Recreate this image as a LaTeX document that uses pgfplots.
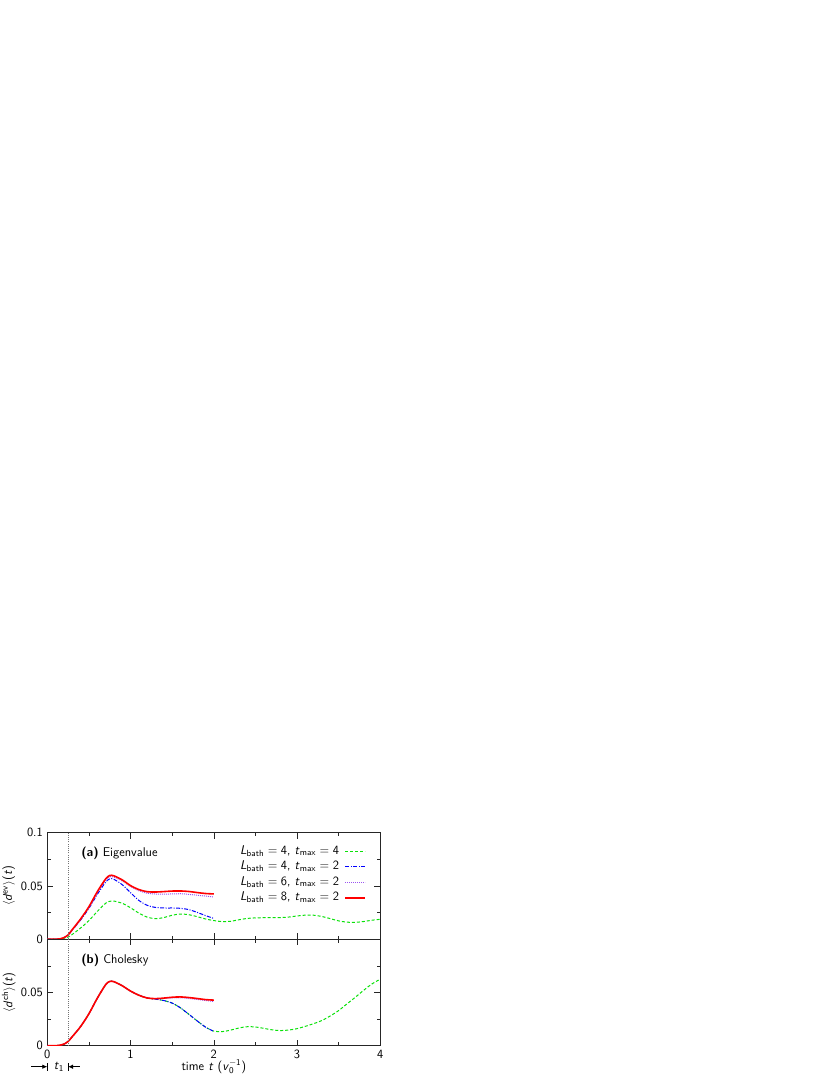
\documentclass[border=0pt]{standalone}
\usepackage{fontspec}
\usepackage{amsmath}
\usepackage{pgfplots}
\pgfplotsset{compat=1.18}
\usetikzlibrary{arrows.meta}
\definecolor{cgreen}{RGB}{10,225,10}
\definecolor{cblue}{RGB}{0,0,255}
\definecolor{cpurple}{RGB}{155,85,240}
\definecolor{cred}{RGB}{255,0,0}
\pgfplotsset{
  panel/.style={
    scale only axis, width=333bp, height=106.5bp,
    xmin=0, xmax=4, ymin=0, ymax=0.1,
    xtick={0,1,2,3,4}, minor x tick num=1,
    ytick={0,0.05,0.1}, minor y tick num=1,
    major tick length=6bp, minor tick length=3.5bp,
    axis line style={line width=0.6bp, black!85},
    every tick/.style={black!85, line width=0.55bp},
    /pgf/number format/assume math mode=true,
    clip mode=individual,
    ylabel style={at={(rel axis cs:0,0.5)}, anchor=center, yshift=38.5bp},
    every axis plot/.append style={smooth, tension=0.5},
    legend image code/.code={\draw[#1] (0bp,0bp) -- (20bp,0bp);},
  },
  sgreen/.style={cgreen, line width=1bp, dash pattern=on 3bp off 2bp},
  sblue/.style={cblue, line width=1bp, dash pattern=on 4bp off 1.5bp on 1bp off 1.5bp},
  spurple/.style={cpurple, line width=1bp, dash pattern=on 1bp off 1bp},
  sred/.style={cred, line width=1.6bp},
}
\begin{document}
\fontsize{12.7}{15}\selectfont\sffamily
\begin{tikzpicture}
\useasboundingbox (0,0) rectangle (830bp,1075bp);
% ---------- top panel (a)
\begin{axis}[panel, at={(47.3bp,135.8bp)}, anchor=south west,
  xticklabels={},
  yticklabels={0,0.05,0.1},
  ylabel={\ensuremath{\langle}\textit{d}\textsuperscript{ev}\ensuremath{\rangle}(\textit{t})},
  legend plot pos=right, legend cell align=right,
  legend style={at={(rel axis cs:0.958,0.90)}, anchor=north east, draw=none, fill=none,
    inner sep=0pt, row sep=0pt, column sep=4bp,
    nodes={inner sep=1.5bp, text height=9bp, text depth=3.5bp}},
]
\addplot[sgreen] coordinates {
(0,0) (0.1,0) (0.15,0.0001) (0.2,0.0008) (0.25,0.002) (0.3,0.0045) (0.4,0.0105) (0.5,0.0175)
(0.6,0.026) (0.7,0.0337) (0.75,0.0356) (0.8,0.0358) (0.9,0.0337) (1.0,0.0295) (1.1,0.0245)
(1.2,0.0207) (1.3,0.0193) (1.4,0.0203) (1.5,0.0225) (1.6,0.0236) (1.7,0.0230) (1.8,0.0212)
(1.9,0.0190) (2.0,0.0175) (2.1,0.0165) (2.2,0.0168) (2.3,0.0182) (2.4,0.0195) (2.5,0.0200)
(2.6,0.0202) (2.7,0.0202) (2.8,0.0203) (2.9,0.0208) (3.0,0.0218) (3.1,0.0226) (3.2,0.0225)
(3.3,0.0213) (3.4,0.0193) (3.5,0.0172) (3.6,0.0160) (3.7,0.0158) (3.8,0.0166) (3.9,0.0178) (4.0,0.0187)};
\addlegendentry{\textit{L}\textsubscript{bath}\;=\;4, \textit{t}\textsubscript{max}\;=\;4}
\addplot[sblue] coordinates {
(0,0) (0.1,0) (0.15,0.0003) (0.2,0.0015) (0.25,0.004) (0.3,0.0085) (0.4,0.018) (0.5,0.029)
(0.6,0.042) (0.7,0.0535) (0.75,0.0566) (0.8,0.0562) (0.9,0.0512) (1.0,0.0437) (1.1,0.0364)
(1.2,0.0318) (1.3,0.0298) (1.4,0.0293) (1.5,0.0293) (1.6,0.0290) (1.7,0.0278) (1.8,0.0252)
(1.9,0.0222) (2.0,0.0195)};
\addlegendentry{\textit{L}\textsubscript{bath}\;=\;4, \textit{t}\textsubscript{max}\;=\;2}
\addplot[spurple] coordinates {
(0,0) (0.1,0) (0.15,0.0003) (0.2,0.0015) (0.25,0.004) (0.3,0.0088) (0.4,0.0188) (0.5,0.030)
(0.6,0.0438) (0.7,0.0555) (0.75,0.0586) (0.8,0.0583) (0.9,0.0547) (1.0,0.0495) (1.1,0.0455)
(1.2,0.0432) (1.3,0.0424) (1.4,0.0423) (1.5,0.0425) (1.6,0.0427) (1.7,0.0421) (1.8,0.0413)
(1.9,0.0405) (2.0,0.0397)};
\addlegendentry{\textit{L}\textsubscript{bath}\;=\;6, \textit{t}\textsubscript{max}\;=\;2}
\addplot[sred] coordinates {
(0,0) (0.1,0) (0.15,0.0003) (0.2,0.0015) (0.25,0.004) (0.3,0.009) (0.4,0.019) (0.5,0.0305)
(0.6,0.0445) (0.7,0.0565) (0.75,0.0598) (0.8,0.0595) (0.9,0.0557) (1.0,0.0503) (1.1,0.0466)
(1.2,0.0446) (1.3,0.0443) (1.4,0.0447) (1.5,0.0452) (1.6,0.0453) (1.7,0.0448) (1.8,0.0438)
(1.9,0.0429) (2.0,0.0425)};
\addlegendentry{\textit{L}\textsubscript{bath}\;=\;8, \textit{t}\textsubscript{max}\;=\;2}
\draw[black!55, line width=0.45bp, dash pattern=on 0.9bp off 1.3bp] (axis cs:0.25,0) -- (axis cs:0.25,0.1);
\node[anchor=west] at (axis cs:0.355,0.0806) {\textbf{(a)} Eigenvalue};
\end{axis}
% ---------- bottom panel (b)
\begin{axis}[panel, at={(47.3bp,29.3bp)}, anchor=south west,
  xticklabels={0,1,2,3,4},
  yticklabels={0,0.05,},
  ylabel={\ensuremath{\langle}\textit{d}\textsuperscript{ch}\ensuremath{\rangle}(\textit{t})},
  xlabel={time \textit{t} (\textit{v}\ensuremath{_{\mathsf{0}}^{-\mathsf{1}}})},
  xlabel style={at={(rel axis cs:0.5,0)}, anchor=center, yshift=-21bp},
]
\addplot[sgreen] coordinates {
(0,0) (0.1,0) (0.15,0.0004) (0.2,0.0015) (0.25,0.004) (0.3,0.0085) (0.4,0.018) (0.5,0.030)
(0.6,0.0445) (0.7,0.0572) (0.75,0.0603) (0.8,0.0601) (0.9,0.0563) (1.0,0.0513) (1.1,0.0474)
(1.2,0.0448) (1.3,0.0437) (1.4,0.0424) (1.5,0.0400) (1.6,0.0355) (1.7,0.0295) (1.8,0.0233)
(1.9,0.0175) (2.0,0.0137) (2.1,0.0132) (2.2,0.0146) (2.3,0.0166) (2.4,0.0178) (2.5,0.0176)
(2.6,0.0163) (2.7,0.0149) (2.8,0.0142) (2.9,0.0147) (3.0,0.0160) (3.1,0.0182) (3.2,0.0207)
(3.3,0.0237) (3.4,0.0280) (3.5,0.0330) (3.6,0.0393) (3.7,0.0455) (3.8,0.0520) (3.9,0.0580) (4.0,0.0625)};
\addplot[sblue] coordinates {
(0,0) (0.1,0) (0.15,0.0004) (0.2,0.0015) (0.25,0.004) (0.3,0.0085) (0.4,0.018) (0.5,0.030)
(0.6,0.0445) (0.7,0.0572) (0.75,0.0603) (0.8,0.0601) (0.9,0.0563) (1.0,0.0513) (1.1,0.0474)
(1.2,0.0448) (1.3,0.0437) (1.4,0.0424) (1.5,0.0400) (1.6,0.0355) (1.7,0.0295) (1.8,0.0233)
(1.9,0.0175) (2.0,0.0135)};
\addplot[spurple] coordinates {
(0,0) (0.1,0) (0.15,0.0004) (0.2,0.0015) (0.25,0.004) (0.3,0.0085) (0.4,0.018) (0.5,0.030)
(0.6,0.0445) (0.7,0.0572) (0.75,0.0603) (0.8,0.0601) (0.9,0.0563) (1.0,0.0513) (1.1,0.0474)
(1.2,0.0448) (1.3,0.0441) (1.4,0.0444) (1.5,0.0448) (1.6,0.0450) (1.7,0.0443) (1.8,0.0434)
(1.9,0.0424) (2.0,0.0415)};
\addplot[sred] coordinates {
(0,0) (0.1,0) (0.15,0.0004) (0.2,0.0015) (0.25,0.004) (0.3,0.0085) (0.4,0.018) (0.5,0.030)
(0.6,0.0445) (0.7,0.0572) (0.75,0.0603) (0.8,0.0601) (0.9,0.0563) (1.0,0.0513) (1.1,0.0474)
(1.2,0.0448) (1.3,0.0442) (1.4,0.0447) (1.5,0.0455) (1.6,0.0458) (1.7,0.0452) (1.8,0.0443)
(1.9,0.0433) (2.0,0.0428)};
\draw[black!55, line width=0.45bp, dash pattern=on 0.9bp off 1.3bp] (axis cs:0.25,0) -- (axis cs:0.25,0.1);
\node[anchor=west] at (axis cs:0.355,0.080) {\textbf{(b)} Cholesky};
% t1 marker
\draw[line width=0.7bp, -{Latex[length=5bp,width=4.5bp]}] ([yshift=-21bp]axis cs:-0.19,0) -- ([yshift=-21bp]axis cs:0,0);
\draw[line width=0.7bp] ([yshift=-25bp]axis cs:0,0) -- ([yshift=-17bp]axis cs:0,0);
\draw[line width=0.7bp, -{Latex[length=5bp,width=4.5bp]}] ([yshift=-21bp]axis cs:0.39,0) -- ([yshift=-21bp]axis cs:0.25,0);
\draw[line width=0.7bp] ([yshift=-25bp]axis cs:0.25,0) -- ([yshift=-17bp]axis cs:0.25,0);
\node at ([yshift=-21bp]axis cs:0.14,0) {\textit{t}\textsubscript{1}};
\end{axis}
\end{tikzpicture}
\end{document}
